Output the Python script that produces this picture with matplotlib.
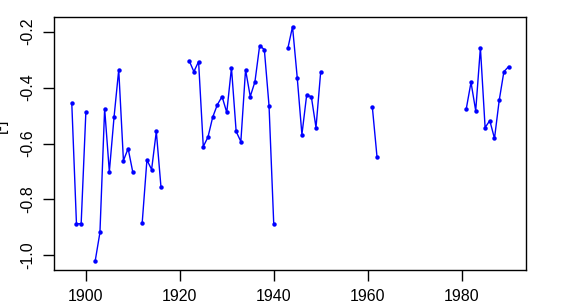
import numpy as np
import matplotlib
matplotlib.use("Agg")
import matplotlib.pyplot as plt

plt.rcParams['font.family'] = ['Liberation Sans', 'DejaVu Sans']
plt.rcParams['axes.unicode_minus'] = False

# yearly values, NaN where there is no data (gaps in the line)
years = list(range(1897, 1991))
nan = np.nan
values = [
    -0.454, -0.887, -0.887, -0.489, nan, -1.019, -0.918, -0.475, -0.701, -0.506,  # 1897-1906
    -0.336, -0.661, -0.618, -0.703, nan, -0.883, -0.659, -0.693, -0.557, -0.757,  # 1907-1916
    nan, nan, nan, nan, nan, -0.304, -0.343, -0.307, -0.611, -0.577,              # 1917-1926
    -0.506, -0.461, -0.432, -0.489, -0.329, -0.557, -0.593, -0.336, -0.432, -0.379,  # 1927-1936
    -0.250, -0.264, -0.465, -0.887, nan, nan, -0.260, -0.182, -0.364, -0.568,     # 1937-1946
    -0.428, -0.432, -0.543, -0.343, nan, nan, nan, nan, nan, nan,                 # 1947-1956
    nan, nan, nan, nan, -0.471, -0.650, nan, nan, nan, nan,                       # 1957-1966
    nan, nan, nan, nan, nan, nan, nan, nan, nan, nan,                             # 1967-1976
    nan, nan, nan, nan, -0.475, -0.381, -0.483, -0.257, -0.543, -0.518,           # 1977-1986
    -0.582, -0.446, -0.343, -0.325,                                               # 1987-1990
]
xticks = [1900, 1920, 1940, 1960, 1980]
yticks = [-1.0, -0.8, -0.6, -0.4, -0.2]

fig = plt.figure(figsize=(5.8, 3.06), dpi=100)
ax = fig.add_axes([0.0936, 0.1176, 0.8134, 0.8259])

ax.plot(years, values, color='blue', linewidth=1.0, marker='o',
        markersize=3.2, markeredgewidth=0)

x0, x1 = min(years), max(years)
pad = (x1 - x0) * 0.04
ax.set_xlim(x0 - pad, x1 + pad)
vmin, vmax = np.nanmin(values), np.nanmax(values)
pad = (vmax - vmin) * 0.04
ax.set_ylim(vmin - pad, vmax + pad)

ax.set_xticks(xticks)
ax.set_xticklabels([str(t) for t in xticks])
ax.set_yticks(yticks)
ax.set_yticklabels(['%.1f' % t for t in yticks], rotation=90, va='center')

ax.tick_params(direction='out', length=8, width=1, labelsize=11.5, pad=6)
for s in ax.spines.values():
    s.set_linewidth(1)

# y label is mostly cut off at the left edge in the original
fig.text(0.0, 0.59, '[-]', rotation=90, ha='center', va='center', fontsize=11.5)

fig.savefig('out.png', dpi=100)
